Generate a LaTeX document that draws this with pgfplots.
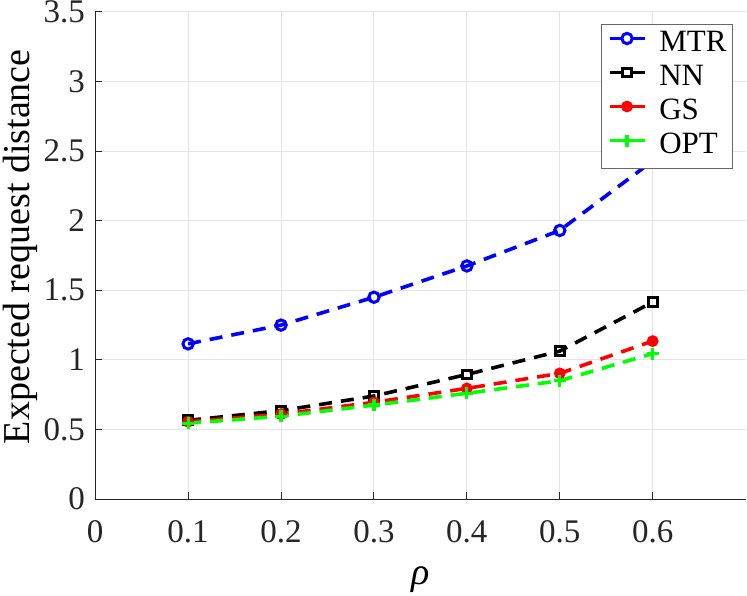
\documentclass[border=0pt]{standalone}
\usepackage{fontspec}
\setmainfont{Liberation Serif}
\usepackage{pgfplots}
\pgfplotsset{compat=1.18}
\definecolor{axgray}{RGB}{38,38,38}
\definecolor{gridgray}{RGB}{228,228,228}
\begin{document}
\begin{tikzpicture}
\begin{axis}[
  name=ax,
  scale only axis,
  width=325.2pt, height=243.5pt,
  xmin=0, xmax=0.7, ymin=0, ymax=3.5,
  xtick={0,0.1,0.2,0.3,0.4,0.5,0.6},
  ytick={0,0.5,1,1.5,2,2.5,3,3.5},
  xticklabels={0,0.1,0.2,0.3,0.4,0.5,0.6},
  yticklabels={0,0.5,1,1.5,2,2.5,3,3.5},
  /pgf/number format/assume math mode=true,
  axis x line*=bottom, axis y line*=left,
  axis line style={draw=axgray, line width=0.5pt, -},
  tick align=inside, major tick length=3.5pt,
  tick style={draw=axgray, line width=0.5pt},
  grid=major,
  major grid style={draw=gridgray, line width=0.5pt},
  ticklabel style={font=\fontsize{16.5}{16.5}\selectfont, inner sep=0pt, text=axgray},
  xticklabel style={anchor=north},
  yticklabel style={anchor=east},
  xticklabel shift=10.5pt,
  yticklabel shift=5pt,
  ylabel={Expected request distance},
  ylabel style={at={(axis description cs:-0.1157,0.518)}, anchor=center, font=\fontsize{19}{19}\selectfont, inner sep=0pt},
  xlabel={\itshape ρ},
  xlabel style={at={(axis description cs:0.5,-0.1663)}, anchor=center, font=\fontsize{19}{19}\selectfont, inner sep=0pt},
  legend style={at={(rel axis cs:1,1)}, anchor=north east, xshift=-6.3pt, yshift=-6pt,
    draw=axgray!70, line width=0.5pt, fill=white,
    font=\fontsize{15.5}{15.5}\selectfont,
    inner xsep=3pt, inner ysep=2pt, row sep=0pt,
    nodes={inner sep=0pt, text height=11.5pt, text depth=5.5pt, anchor=west}},
  legend cell align=left,
  legend image code/.code={\draw[#1, mark repeat=2, mark phase=2] plot coordinates {(0pt,0.35em) (8.75pt,0.35em) (17.5pt,0.35em)};},
  every axis plot/.append style={line width=1.8pt, dash pattern=on 6.5pt off 4.5pt},
]
\addplot[blue, mark=o, mark size=2.6pt, mark options={solid, line width=1.5pt}]
  coordinates {(0.1,1.115) (0.2,1.25) (0.3,1.45) (0.4,1.675) (0.5,1.93) (0.6,2.43)};
\addlegendentry{\hspace{6.5pt}MTR}
\addplot[black, mark=square, mark size=2.2pt, mark options={solid, line width=1.5pt}]
  coordinates {(0.1,0.565) (0.2,0.635) (0.3,0.74) (0.4,0.895) (0.5,1.063) (0.6,1.415)};
\addlegendentry{\hspace{6.5pt}NN}
\addplot[red, mark=*, mark size=2.7pt, mark options={solid, fill=red, line width=0.5pt}]
  coordinates {(0.1,0.555) (0.2,0.61) (0.3,0.695) (0.4,0.795) (0.5,0.903) (0.6,1.135)};
\addlegendentry{\hspace{6.5pt}GS}
\addplot[green, mark=+, mark size=3pt, mark options={solid, line width=1.6pt}]
  coordinates {(0.1,0.545) (0.2,0.595) (0.3,0.675) (0.4,0.76) (0.5,0.85) (0.6,1.045)};
\addlegendentry{\hspace{6.5pt}OPT}
\end{axis}
\pgfresetboundingbox
\path[use as bounding box] ([xshift=-47.6pt,yshift=-48pt]ax.south west) rectangle ([xshift=0.7pt,yshift=6pt]ax.north east);
\end{tikzpicture}
\end{document}
